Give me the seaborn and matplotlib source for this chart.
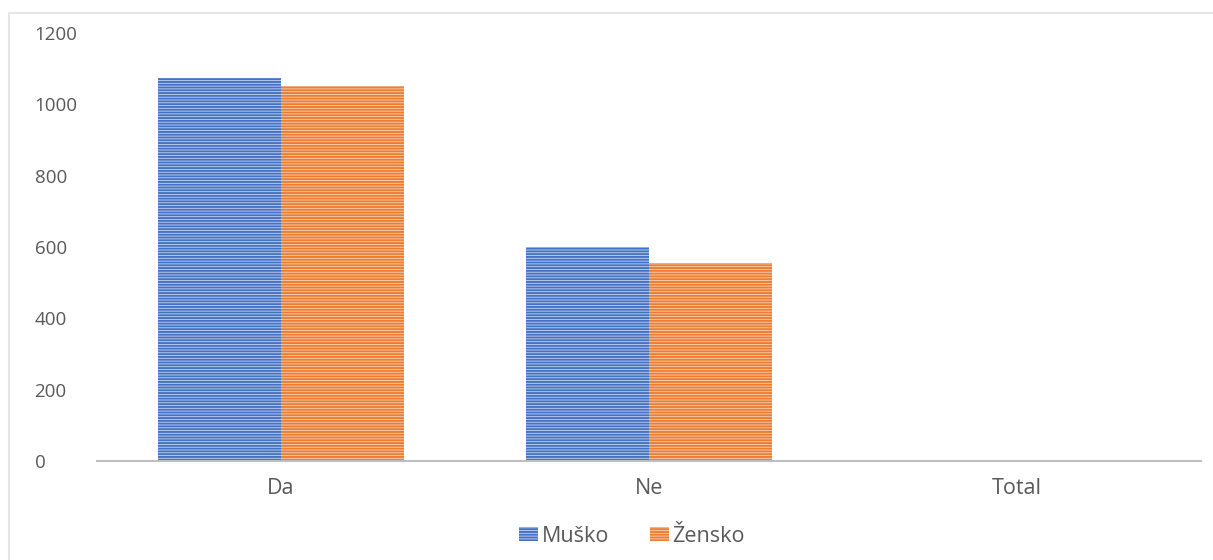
import pandas as pd
import matplotlib.pyplot as plt
import seaborn as sns
from matplotlib.patches import Patch

# Chart data
categories = ['Da', 'Ne', 'Total']
musko = [1074, 600, 0]
zensko = [1051, 555, 0]
series = ['Muško', 'Žensko']
yticks = [0, 200, 400, 600, 800, 1000, 1200]

df = pd.DataFrame({
    'Odgovor': categories * 2,
    'Spol': [series[0]] * 3 + [series[1]] * 3,
    'Broj': musko + zensko,
})

sns.set_style('white')
plt.rcParams['font.family'] = ['Open Sans', 'DejaVu Sans']
plt.rcParams['hatch.linewidth'] = 1.4

colors = {'Muško': '#4472C4', 'Žensko': '#ED7D31'}
light = {'Muško': '#C9D6F0', 'Žensko': '#F9D3B8'}

W, H = 1213, 560
fig = plt.figure(figsize=(W / 100, H / 100), dpi=100)
ax = fig.add_axes([97 / W, 1 - 461 / H, (1201 - 97) / W, (461 - 33) / H])

sns.barplot(data=df, x='Odgovor', y='Broj', hue='Spol', order=categories,
            hue_order=series, palette=colors, width=0.67, gap=0,
            legend=False, ax=ax)

# Excel-style narrow horizontal pattern fill
for i, bar in enumerate(ax.patches):
    name = series[i // len(categories)]
    bar.set_facecolor(light[name])
    bar.set_edgecolor(colors[name])
    bar.set_linewidth(0)
    bar.set_hatch('------')

ax.set_xlim(-0.5, 2.5)
ax.set_ylim(0, 1200)
ax.set_yticks(yticks)
ax.set_xlabel('')
ax.set_ylabel('')
for s in ['top', 'right', 'left']:
    ax.spines[s].set_visible(False)
ax.spines['bottom'].set_color('#BFBFBF')
ax.spines['bottom'].set_linewidth(1.5)

ax.tick_params(axis='y', length=0, pad=45, labelsize=13.5, labelcolor='#595959')
for lbl in ax.get_yticklabels():
    lbl.set_horizontalalignment('left')
ax.tick_params(axis='x', length=0, pad=12, labelsize=15.5, labelcolor='#595959')

handles = [Patch(facecolor=light[s], edgecolor=colors[s], linewidth=0,
                 hatch='------', label=s) for s in series]
fig.legend(handles=handles, loc='center', bbox_to_anchor=(632 / W, 1 - 536 / H),
           ncol=2, frameon=False, fontsize=15.5, labelcolor='#595959',
           handlelength=0.9, handleheight=0.65, handletextpad=0.15,
           columnspacing=1.9)

# light chart-area border
fig.add_artist(plt.Line2D([9 / W, 1], [1 - 13 / H, 1 - 13 / H], color='#E6E6E6', lw=1.5))
fig.add_artist(plt.Line2D([9 / W, 9 / W], [0, 1 - 13 / H], color='#E6E6E6', lw=1.5))

fig.savefig('out.png', dpi=100)
